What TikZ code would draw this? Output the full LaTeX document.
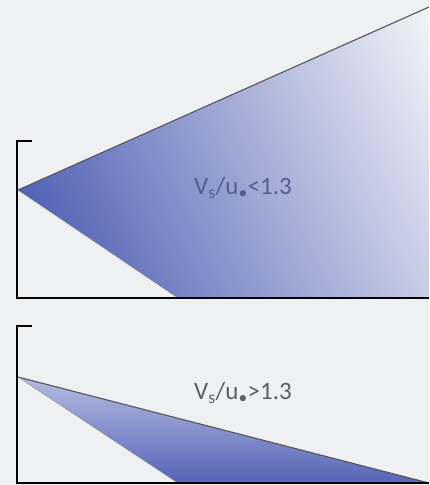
\documentclass[tikz,border=0pt]{standalone}
\usepackage{fontspec}
\setmainfont{Carlito}
\usetikzlibrary{shadings}
\definecolor{bg}{HTML}{EEF0F2}
\definecolor{bdark}{HTML}{4353AE}
\definecolor{bmid}{HTML}{6C7AC0}
\definecolor{bpale}{HTML}{C6CBE6}
\definecolor{bwhite}{HTML}{F3F4F7}
\definecolor{blight}{HTML}{B4BBE0}
\definecolor{txtblue}{HTML}{55608F}
\definecolor{txtgray}{HTML}{5E5F66}
\definecolor{edge}{HTML}{55555A}
\begin{document}
\begin{tikzpicture}[x=1pt,y=-1pt,
  axisline/.style={draw=black,line width=2.8pt,line cap=butt,line join=miter},
  wedgeedge/.style={draw=edge,line width=1.1pt},
  lbl/.style={font=\fontsize{25}{27}\selectfont,inner sep=0pt,anchor=center}]
\fill[bg] (0,0) rectangle (429,485);
\useasboundingbox (0,0) rectangle (429,485);
% top panel
\coordinate (a1) at (18,190);
\coordinate (t1) at (429,7);
\coordinate (r1) at (429,298);
\coordinate (b1) at (178,298);
\begin{scope}
\clip (a1) -- (t1) -- (r1) -- (b1) -- cycle;
\shade[lower left=bdark, upper left=bmid, lower right=bpale, upper right=bwhite]
  (18,7) rectangle (429,298);
\end{scope}
\draw[wedgeedge] (a1) -- (t1);
\draw[edge!70,line width=0.4pt] (a1) -- (b1);
\draw[axisline] (32,141) -- (17,141) -- (17,298) -- (429,298);
\node[lbl,text=txtblue] (l1) at (243,188) {V\textsubscript{s}/u\textsubscript{\textbullet}<1.3};
% bottom panel
\coordinate (a2) at (18,377);
\coordinate (r2) at (429,483);
\coordinate (b2) at (178,483);
\shade[top color=blight, bottom color=bdark!90!white, draw=none] (a2) -- (r2) -- (b2) -- cycle;
\draw[wedgeedge] (a2) -- (r2);
\draw[edge!70,line width=0.4pt] (a2) -- (b2);
\draw[axisline] (32,326) -- (17,326) -- (17,483) -- (429,483);
\node[lbl,text=txtgray] (l2) at (243,393) {V\textsubscript{s}/u\textsubscript{\textbullet}>1.3};
\end{tikzpicture}
\end{document}
